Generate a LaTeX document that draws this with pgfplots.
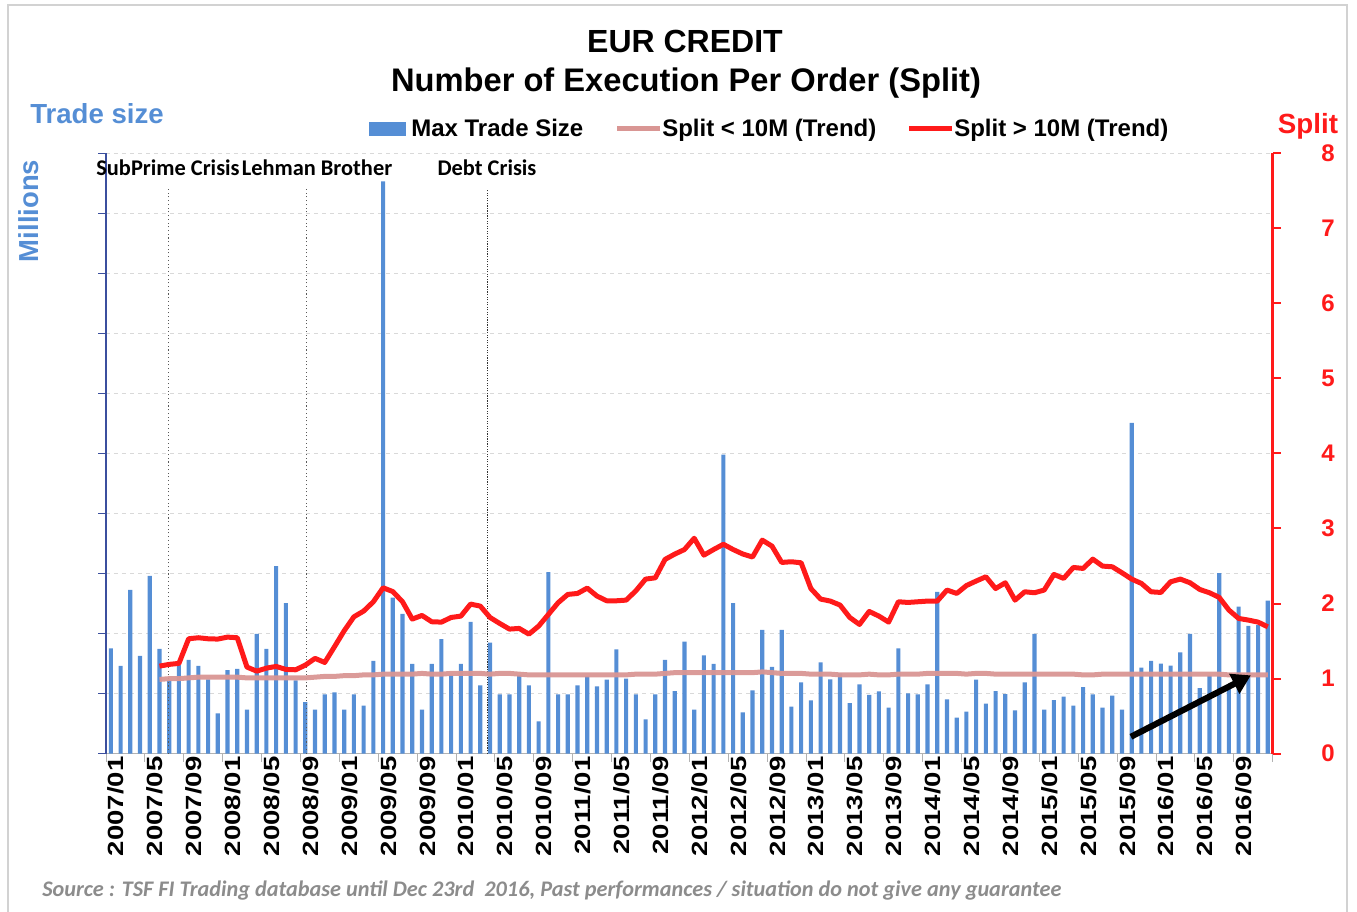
\documentclass[border=0pt]{standalone}
\usepackage{fontspec}
\setmainfont{Liberation Sans}
\newfontfamily\carlito{Carlito}
\newfontfamily\widesans[FakeStretch=1.25]{Liberation Sans}
\usepackage{pgfplots}
\pgfplotsset{compat=1.18}
\usepackage{pgfplotstable}
\usetikzlibrary{arrows.meta}

\definecolor{barblue}{HTML}{558ED5}
\definecolor{labelblue}{HTML}{558ED5}
\definecolor{splitred}{HTML}{FF1A1A}
\definecolor{splitpink}{HTML}{D99694}
\definecolor{axisblue}{HTML}{3B4F9E}
\definecolor{srcgray}{HTML}{8C8C8C}

% max trade size per month (left axis, 0 = 2007/01)
\pgfplotstableread{
m v
0 1.756
1 1.461
2 2.728
3 1.628
4 2.961
5 1.744
6 1.22
7 1.48
8 1.561
9 1.461
10 1.239
11 0.672
12 1.394
13 1.411
14 0.733
15 1.994
16 1.744
17 3.122
18 2.506
19 1.22
20 0.861
21 0.733
22 0.989
23 1.022
24 0.733
25 0.989
26 0.8
27 1.544
28 9.53
29 2.6
30 2.328
31 1.494
32 0.733
33 1.494
34 1.906
35 1.31
36 1.494
37 2.194
38 1.139
39 1.85
40 0.989
41 0.989
42 1.31
43 1.139
44 0.539
45 3.022
46 0.989
47 0.989
48 1.139
49 1.29
50 1.122
51 1.233
52 1.739
53 1.25
54 0.989
55 0.572
56 0.989
57 1.561
58 1.044
59 1.867
60 0.733
61 1.639
62 1.494
63 4.98
64 2.506
65 0.689
66 1.056
67 2.061
68 1.444
69 2.061
70 0.783
71 1.189
72 0.889
73 1.522
74 1.239
75 1.339
76 0.844
77 1.156
78 0.978
79 1.039
80 0.767
81 1.756
82 1.006
83 0.989
84 1.156
85 2.694
86 0.906
87 0.6
88 0.7
89 1.233
90 0.833
91 1.044
92 0.994
93 0.722
94 1.189
95 1.994
96 0.733
97 0.894
98 0.95
99 0.8
100 1.111
101 0.989
102 0.767
103 0.967
104 0.733
105 5.51
106 1.433
107 1.544
108 1.5
109 1.467
110 1.689
111 1.994
112 1.094
113 1.3
114 3.006
115 1.1
116 2.45
117 2.128
118 2.14
119 2.55
}\tradesize

% split trends (right axis)
\pgfplotstableread{
m hi lo
5 1.167 0.99
6 1.19 1.00
7 1.203 1.00
8 1.531 1.01
9 1.545 1.02
10 1.531 1.02
11 1.527 1.02
12 1.553 1.02
13 1.545 1.02
14 1.154 1.01
15 1.10 1.01
16 1.14 1.01
17 1.163 1.01
18 1.123 1.01
19 1.118 1.01
20 1.18 1.01
21 1.27 1.02
22 1.216 1.03
23 1.425 1.03
24 1.638 1.04
25 1.824 1.04
26 1.9 1.05
27 2.024 1.05
28 2.21 1.06
29 2.16 1.06
30 2.024 1.06
31 1.793 1.06
32 1.842 1.07
33 1.758 1.06
34 1.753 1.06
35 1.815 1.07
36 1.833 1.07
37 1.993 1.07
38 1.966 1.07
39 1.815 1.06
40 1.735 1.07
41 1.66 1.07
42 1.669 1.06
43 1.593 1.05
44 1.7 1.05
45 1.855 1.05
46 2.011 1.05
47 2.122 1.05
48 2.135 1.05
49 2.206 1.05
50 2.1 1.05
51 2.037 1.05
52 2.037 1.05
53 2.046 1.05
54 2.17 1.06
55 2.326 1.06
56 2.343 1.06
57 2.588 1.07
58 2.659 1.08
59 2.72 1.08
60 2.87 1.08
61 2.645 1.08
62 2.72 1.08
63 2.79 1.08
64 2.72 1.08
65 2.66 1.08
66 2.62 1.08
67 2.845 1.09
68 2.765 1.08
69 2.548 1.07
70 2.557 1.07
71 2.543 1.07
72 2.2 1.06
73 2.06 1.06
74 2.033 1.06
75 1.98 1.05
76 1.815 1.05
77 1.722 1.05
78 1.895 1.06
79 1.833 1.05
80 1.753 1.05
81 2.024 1.06
82 2.015 1.06
83 2.024 1.06
84 2.033 1.07
85 2.033 1.07
86 2.18 1.07
87 2.135 1.07
88 2.24 1.06
89 2.30 1.07
90 2.357 1.07
91 2.2 1.06
92 2.277 1.06
93 2.046 1.06
94 2.157 1.06
95 2.144 1.06
96 2.18 1.06
97 2.388 1.06
98 2.335 1.06
99 2.481 1.06
100 2.468 1.05
101 2.592 1.05
102 2.499 1.06
103 2.49 1.06
104 2.41 1.06
105 2.326 1.06
106 2.268 1.06
107 2.157 1.06
108 2.148 1.06
109 2.29 1.06
110 2.326 1.06
111 2.277 1.06
112 2.188 1.06
113 2.144 1.06
114 2.082 1.06
115 1.913 1.05
116 1.802 1.05
117 1.78 1.05
118 1.753 1.05
119 1.69 1.05
}\splits

\begin{document}
\begin{tikzpicture}
\path[use as bounding box] (0,0) rectangle (1017.75pt,-684pt);

% left axis: trade size bars
\begin{axis}[
  at={(79.5pt,-565.3pt)}, anchor=south west,
  scale only axis, width=875pt, height=450.5pt,
  xmin=-0.5, xmax=119.5, ymin=0, ymax=10,
  axis y line*=left, axis x line*=bottom,
  x axis line style={draw=gray!60, -},
  y axis line style={draw=axisblue, line width=0.8pt, -},
  ytick={0,1,...,10}, yticklabels={},
  ymajorgrids, grid style={dashed, gray!30, line width=0.6pt},
  tick align=outside, major tick length=6pt,
  y tick style={draw=axisblue, line width=0.8pt},
  x tick style={draw=gray!60, line width=0.6pt},
  xtick={-0.5,3.5,...,119.5}, xticklabels={},
  extra x ticks={0,4,...,116},
  extra x tick labels={2007/01,2007/05,2007/09,2008/01,2008/05,2008/09,2009/01,2009/05,2009/09,2010/01,2010/05,2010/09,2011/01,2011/05,2011/09,2012/01,2012/05,2012/09,2013/01,2013/05,2013/09,2014/01,2014/05,2014/09,2015/01,2015/05,2015/09,2016/01,2016/05,2016/09},
  extra x tick style={major tick length=0pt,
    xticklabel style={rotate=90, anchor=east, font=\widesans\fontsize{16.5pt}{18pt}\selectfont\bfseries, inner sep=2pt, yshift=-4pt}},
  clip=false,
]
\addplot[ybar, bar width=3.1pt, fill=barblue, draw=none] table[x=m, y=v] {\tradesize};
\addplot[gray!70!black, dotted, line width=0.8pt] coordinates {(5.9,0) (5.9,9.4)};
\addplot[gray!70!black, dotted, line width=0.8pt] coordinates {(20.1,0) (20.1,9.4)};
\addplot[black!80, densely dotted, line width=0.9pt] coordinates {(38.7,0) (38.7,9.4)};
\end{axis}

% right axis: split trends
\begin{axis}[
  at={(79.5pt,-565.3pt)}, anchor=south west,
  scale only axis, width=875pt, height=450.5pt,
  xmin=-0.5, xmax=119.5, ymin=0, ymax=8,
  axis y line*=right, axis x line=none,
  y axis line style={draw=splitred, line width=2.4pt, -},
  ytick={0,1,...,8},
  tick align=outside, major tick length=6pt,
  y tick style={draw=splitred, line width=1.5pt},
  /pgf/number format/assume math mode=true,
  yticklabel style={text=splitred, font=\fontsize{18pt}{20pt}\selectfont\bfseries, xshift=27pt},
  clip=false,
]
\addplot[splitpink, line width=3.75pt, line join=round, opacity=0.95] table[x=m, y=lo] {\splits};
\addplot[splitred, line width=3.75pt, line join=round] table[x=m, y=hi] {\splits};
\draw[line width=4.6pt, -{Triangle[length=14pt,width=16pt]}] (axis cs:104.92,0.226) -- (axis cs:117.26,1.044);
\end{axis}

\begin{scope}[x=0.75pt, y=-0.75pt]
\draw[gray!35, line width=0.8pt] (8,5) rectangle (1347,916);
\node[anchor=base, font=\fontsize{24pt}{27pt}\selectfont\bfseries] at (685,53) {EUR CREDIT};
\node[anchor=base, font=\fontsize{24.5pt}{27pt}\selectfont\bfseries] at (686,92) {Number of Execution Per Order (Split)};
\node[anchor=base, text=labelblue, font=\fontsize{20.7pt}{23pt}\selectfont\bfseries] at (97,124) {Trade size};
\node[rotate=90, text=labelblue, font=\fontsize{20.6pt}{23pt}\selectfont\bfseries] at (29,211) {Millions};
\node[anchor=base, text=splitred, font=\fontsize{20.8pt}{23pt}\selectfont\bfseries] at (1308,134) {Split};
% legend
\fill[barblue] (369,122) rectangle (406,136);
\node[anchor=base west, inner sep=0pt, font=\fontsize{18pt}{20pt}\selectfont\bfseries] at (411,137) {Max Trade Size};
\draw[splitpink, line width=3.75pt] (617,129) -- (660,129);
\node[anchor=base west, inner sep=0pt, font=\fontsize{18pt}{20pt}\selectfont\bfseries] at (662,137) {Split < 10M (Trend)};
\draw[splitred, line width=3.75pt] (909,129) -- (952,129);
\node[anchor=base west, inner sep=0pt, font=\fontsize{18pt}{20pt}\selectfont\bfseries] at (954,137) {Split > 10M (Trend)};
% events
\node[anchor=base, font=\carlito\fontsize{16.8pt}{19pt}\selectfont\bfseries] at (168,176) {SubPrime Crisis};
\node[anchor=base, font=\carlito\fontsize{16.8pt}{19pt}\selectfont\bfseries] at (317,176) {Lehman Brother};
\node[anchor=base, font=\carlito\fontsize{16.8pt}{19pt}\selectfont\bfseries] at (487,176) {Debt Crisis};
% source
\node[anchor=base west, inner sep=0pt, text=srcgray, font=\carlito\fontsize{16.7pt}{19pt}\selectfont\bfseries\itshape] at (42,896) {Source : TSF FI Trading database until Dec 23rd\ \ 2016, Past performances / situation do not give any guarantee};
\end{scope}
\end{tikzpicture}
\end{document}
